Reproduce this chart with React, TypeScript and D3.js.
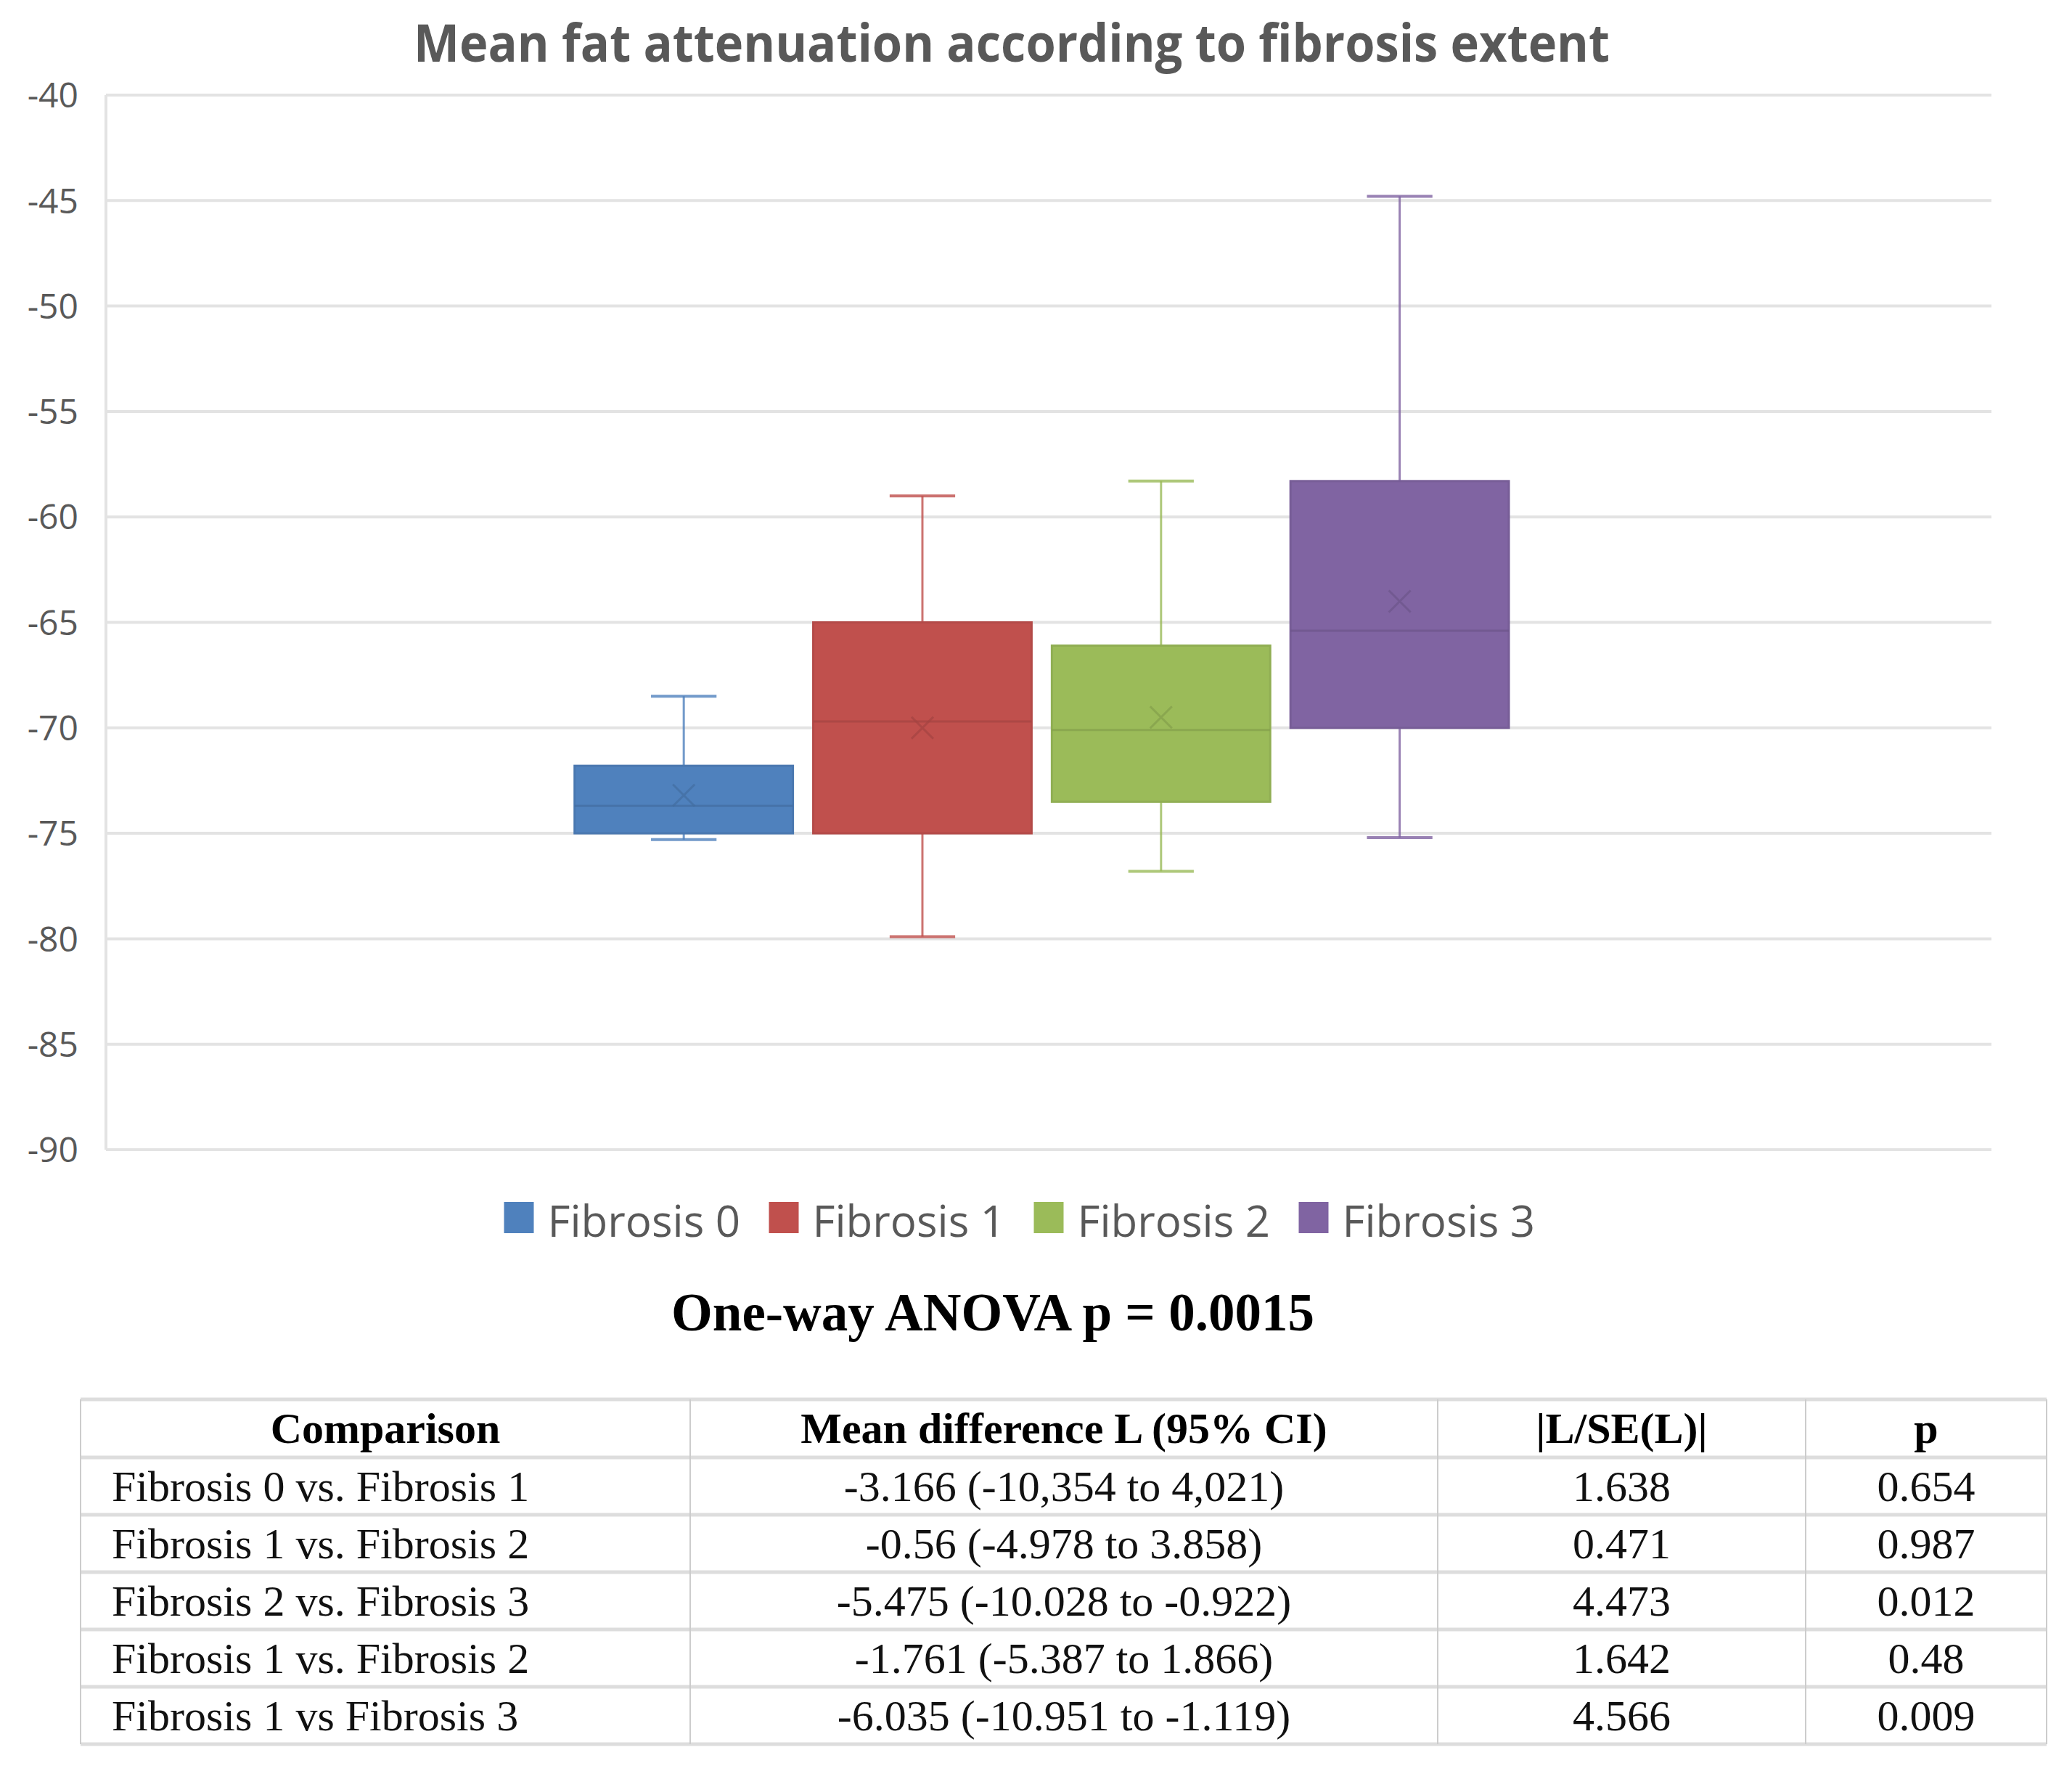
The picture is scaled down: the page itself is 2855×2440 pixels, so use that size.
import React from "react";
import * as d3 from "d3";

const series = ["Fibrosis 0", "Fibrosis 1", "Fibrosis 2", "Fibrosis 3"];
const colors = ["#4F81BD", "#C0504D", "#9BBB59", "#8064A2"];
const whiskerLow = [-75.3, -79.9, -76.8, -75.2];
const q1 = [-75.0, -75.0, -73.5, -70.0];
const median = [-73.7, -69.7, -70.1, -65.4];
const q3 = [-71.8, -65.0, -66.1, -58.3];
const whiskerHigh = [-68.5, -59.0, -58.3, -44.8];
const means = [-73.2, -70.0, -69.5, -64.0];
const yTicks = [-40, -45, -50, -55, -60, -65, -70, -75, -80, -85, -90];

const tableHeader = ["Comparison", "Mean difference L (95% CI)", "|L/SE(L)|", "p"];
const comparisons = [
  "Fibrosis 0 vs. Fibrosis 1",
  "Fibrosis 1 vs. Fibrosis 2",
  "Fibrosis 2 vs. Fibrosis 3",
  "Fibrosis 1 vs. Fibrosis 2",
  "Fibrosis 1 vs Fibrosis 3",
];
const meanDiffs = [
  "-3.166 (-10,354 to 4,021)",
  "-0.56 (-4.978 to 3.858)",
  "-5.475 (-10.028 to -0.922)",
  "-1.761 (-5.387 to 1.866)",
  "-6.035 (-10.951 to -1.119)",
];
const lse = ["1.638", "0.471", "4.473", "1.642", "4.566"];
const pValues = ["0.654", "0.987", "0.012", "0.48", "0.009"];

const W = 2855;
const H = 2440;
const plot = { left: 146, right: 2744, top: 131, bottom: 1584 };
const sans = "'Open Sans', 'Noto Sans', sans-serif";
const serif = "'Liberation Serif', 'Times New Roman', serif";

export default function App() {
  const y = d3.scaleLinear().domain([-90, -40]).range([plot.bottom, plot.top]);
  const plotW = plot.right - plot.left;
  const groupW = plotW * 0.4955;
  const groupC = plot.left + plotW * 0.4963;
  const x = d3
    .scaleBand<string>()
    .domain(series)
    .range([groupC - groupW / 2, groupC + groupW / 2])
    .paddingInner(0.085)
    .paddingOuter(0);
  const bw = x.bandwidth();
  const capW = bw * 0.3;
  const mk = 15;

  // legend
  const legendStep = 365;
  const legendStart = 1400 - (legendStep * 3 + 316) / 2;

  // table
  const colX = [111, 951, 1981, 2488, 2820];
  const rowTop = 1928;
  const headerH = 80;
  const rowH = 79;
  const rows = comparisons.map((c, i) => [c, meanDiffs[i], lse[i], pValues[i]]);
  const tableBottom = rowTop + headerH + rows.length * rowH;

  return (
    <div style={{ position: "absolute", left: 0, top: 0 }}>
      <svg width={W} height={H} style={{ display: "block", background: "#fff" }}>
        <rect x={0} y={0} width={W} height={H} fill="#fff" />
        <text
          x={1394}
          y={85}
          textAnchor="middle"
          fontFamily={sans}
          fontWeight={700}
          fontSize={72}
          fill="#595959"
          textLength={1648}
          lengthAdjust="spacingAndGlyphs"
        >
          Mean fat attenuation according to fibrosis extent
        </text>

        {/* gridlines */}
        {yTicks.map((t) => (
          <g key={t}>
            <line x1={plot.left} x2={plot.right} y1={y(t)} y2={y(t)} stroke="#E3E3E3" strokeWidth={4} />
            <text
              x={108}
              y={y(t)}
              dy="0.36em"
              textAnchor="end"
              fontFamily={sans}
              fontSize={48}
              fill="#595959"
            >
              {t}
            </text>
          </g>
        ))}
        <line x1={plot.left} x2={plot.left} y1={plot.top} y2={plot.bottom} stroke="#E3E3E3" strokeWidth={4} />

        {/* boxes */}
        {series.map((s, i) => {
          const cx = (x(s) as number) + bw / 2;
          const c = colors[i];
          const dark = d3.color(c)!.darker(0.45).toString();
          const my = y(means[i]);
          return (
            <g key={s}>
              <line x1={cx} x2={cx} y1={y(whiskerHigh[i])} y2={y(q3[i])} stroke={c} strokeWidth={3} opacity={0.8} />
              <line x1={cx} x2={cx} y1={y(q1[i])} y2={y(whiskerLow[i])} stroke={c} strokeWidth={3} opacity={0.8} />
              <line x1={cx - capW / 2} x2={cx + capW / 2} y1={y(whiskerHigh[i])} y2={y(whiskerHigh[i])} stroke={c} strokeWidth={4} opacity={0.8} />
              <line x1={cx - capW / 2} x2={cx + capW / 2} y1={y(whiskerLow[i])} y2={y(whiskerLow[i])} stroke={c} strokeWidth={4} opacity={0.8} />
              <rect
                x={x(s)}
                y={y(q3[i])}
                width={bw}
                height={y(q1[i]) - y(q3[i])}
                fill={c}
                stroke={d3.color(c)!.darker(0.2).toString()}
                strokeWidth={3}
              />
              <line x1={x(s)} x2={(x(s) as number) + bw} y1={y(median[i])} y2={y(median[i])} stroke={dark} strokeWidth={3} opacity={0.7} />
              <path
                d={`M${cx - mk},${my - mk}L${cx + mk},${my + mk}M${cx - mk},${my + mk}L${cx + mk},${my - mk}`}
                stroke={dark}
                strokeWidth={3}
                opacity={0.7}
              />
            </g>
          );
        })}

        {/* legend */}
        {series.map((s, i) => {
          const lx = legendStart + i * legendStep;
          return (
            <g key={s}>
              <rect x={lx} y={1656} width={41} height={43} fill={colors[i]} />
              <text x={lx + 60} y={1704} fontFamily={sans} fontSize={60} fill="#595959">
                {s}
              </text>
            </g>
          );
        })}

        <text x={1368} y={1833} textAnchor="middle" fontFamily={serif} fontWeight={700} fontSize={73} fill="#000">
          One-way ANOVA p = 0.0015
        </text>

        {/* table */}
        <line x1={colX[0]} x2={colX[4]} y1={rowTop} y2={rowTop} stroke="#DDDDDD" strokeWidth={5} />
        <line x1={colX[0]} x2={colX[4]} y1={rowTop + headerH} y2={rowTop + headerH} stroke="#DDDDDD" strokeWidth={5} />
        {rows.map((_, r) => (
          <line
            key={r}
            x1={colX[0]}
            x2={colX[4]}
            y1={rowTop + headerH + (r + 1) * rowH}
            y2={rowTop + headerH + (r + 1) * rowH}
            stroke="#DDDDDD"
            strokeWidth={5}
          />
        ))}
        {colX.map((cx, i) => (
          <line key={i} x1={cx} x2={cx} y1={rowTop} y2={tableBottom} stroke="#CCCCCC" strokeWidth={2} />
        ))}
        {tableHeader.map((h, i) => (
          <text
            key={h}
            x={(colX[i] + colX[i + 1]) / 2}
            y={rowTop + 60}
            textAnchor="middle"
            fontFamily={serif}
            fontWeight={700}
            fontSize={60}
            fill="#000"
          >
            {h}
          </text>
        ))}
        {rows.map((row, r) =>
          row.map((cell, i) => (
            <text
              key={`${r}-${i}`}
              x={i === 0 ? colX[0] + 43 : (colX[i] + colX[i + 1]) / 2}
              y={rowTop + headerH + r * rowH + 60}
              textAnchor={i === 0 ? "start" : "middle"}
              fontFamily={serif}
              fontSize={60}
              fill="#111"
            >
              {cell}
            </text>
          ))
        )}
      </svg>
    </div>
  );
}
